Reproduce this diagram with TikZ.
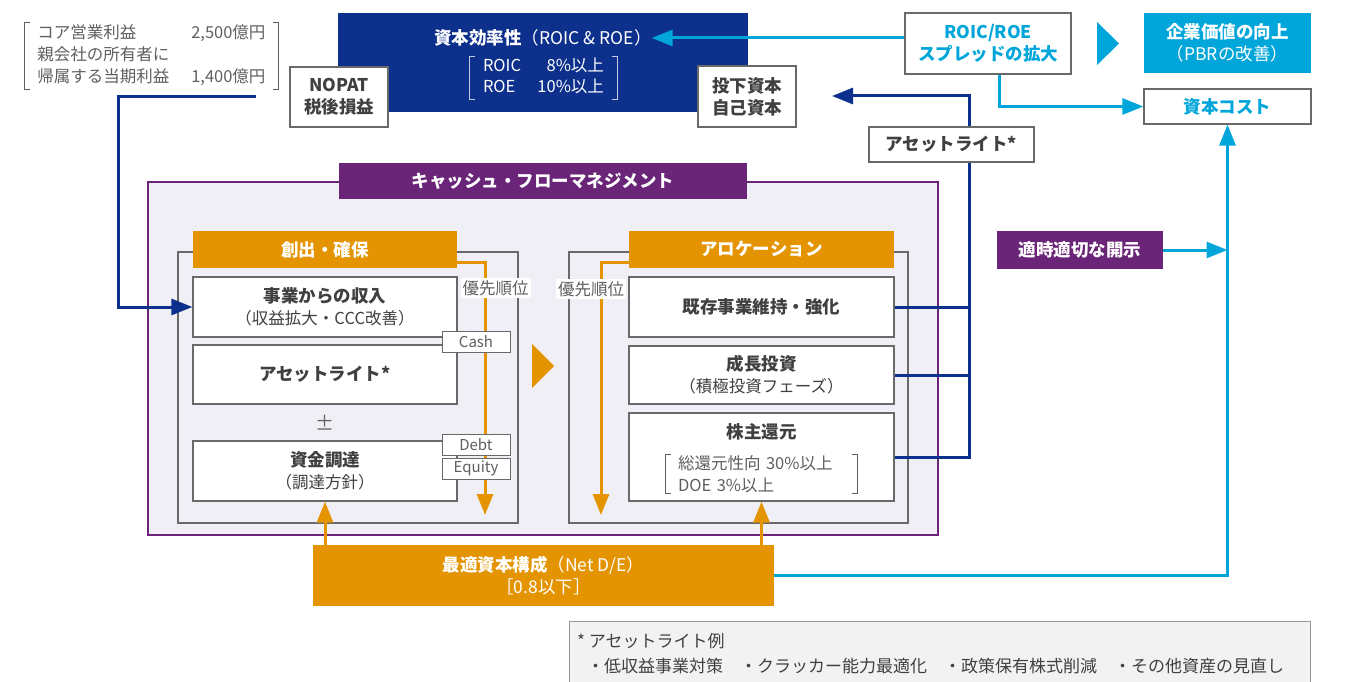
\documentclass[tikz,border=0pt]{standalone}
\usepackage{fontspec}
\setmainfont{Noto Sans CJK JP}
\usetikzlibrary{arrows.meta}
\definecolor{navy}{RGB}{12,48,140}
\definecolor{sky}{RGB}{0,166,218}
\definecolor{amber}{RGB}{228,148,0}
\definecolor{grape}{RGB}{106,36,120}
\definecolor{mist}{RGB}{240,239,246}
\definecolor{ink}{RGB}{64,64,64}
\definecolor{ash}{RGB}{95,95,95}
\definecolor{frame}{RGB}{105,105,105}
\newcommand{\fsb}{\fontsize{17.5}{22}\selectfont}
\newcommand{\fsn}{\fontsize{16.5}{22}\selectfont}
\newcommand{\fss}{\fontsize{15}{17}\selectfont}
\newcommand{\brackets}[2]{\draw[draw=#2,line width=0.9pt] ([xshift=5pt]#1.north west) -- (#1.north west) -- (#1.south west) -- ([xshift=5pt]#1.south west) ([xshift=-5pt]#1.north east) -- (#1.north east) -- (#1.south east) -- ([xshift=-5pt]#1.south east);}
\tikzset{
  wbox/.style={draw=frame,line width=1.2pt,fill=white,font=\fsb\bfseries,align=center},
  hdr/.style={fill=amber,text=white,font=\fsb\bfseries,minimum height=37pt},
  tag/.style={draw=frame,line width=1pt,fill=white,text=ash,font=\fss,minimum width=68pt,minimum height=21pt},
  prio/.style={fill=white,text=ash,font=\fsn,inner sep=2pt},
  navyline/.style={draw=navy,line width=3pt},
  skyline/.style={draw=sky,line width=3pt},
  amberline/.style={draw=amber,line width=3pt}
}
\begin{document}
\begin{tikzpicture}[x=1pt,y=-1pt,>={Triangle[length=21pt,width=16pt]},every node/.style={inner sep=0pt,text=ink}]
\useasboundingbox (0,0) rectangle (1345,682);
% top row
\node[text=ash,minimum width=253pt,minimum height=61pt] (note) at (151.5,56) {\fontsize{16.5}{22}\selectfont\begin{tabular*}{228pt}{@{}l@{\extracolsep{\fill}}r@{}}コア営業利益&2,500億円\\親会社の所有者に&\\帰属する当期利益&1,400億円\end{tabular*}};
\brackets{note}{ash}
\node[fill=navy,minimum width=410pt,minimum height=99pt] (eff) at (543,62.5) {};
\node[text=white,font=\fsb\bfseries] (effttl) at (543,38) {資本効率性{\mdseries（ROIC \& ROE）}};
\node[text=white,minimum width=147pt,minimum height=38pt] (efftgt) at (543.5,78) {\fontsize{16.5}{21}\selectfont\begin{tabular*}{121pt}{@{}l@{\extracolsep{\fill}}r@{}}ROIC&8\%以上\\ROE&10\%以上\end{tabular*}};
\brackets{efftgt}{white!75!navy}
\node[wbox,minimum width=98pt,minimum height=60pt] (nopat) at (339,97) {NOPAT\\税後損益};
\node[wbox,minimum width=98pt,minimum height=61pt] (invest) at (747,96.5) {投下資本\\自己資本};
\node[wbox,text=sky,minimum width=166pt,minimum height=61pt] (spread) at (988,43.5) {ROIC/ROE\\スプレッドの拡大};
\fill[sky] (1097,22) -- (1119,43.5) -- (1097,65) -- cycle;
\node[fill=sky,text=white,font=\fsb\bfseries,align=center,minimum width=167pt,minimum height=60pt] (value) at (1227.5,43) {企業価値の向上\\{\mdseries （PBRの改善）}};
\node[wbox,text=sky,minimum width=167pt,minimum height=35pt] (cost) at (1227.5,106.5) {資本コスト};
\draw[skyline,->] (spread.west |- effttl.east) -- (effttl.east);
\draw[skyline,->] ([xshift=11pt]spread.south) |- (cost.west);
% cash flow management
\node[fill=mist,draw=grape,line width=1.5pt,minimum width=790pt,minimum height=353pt] (cfm) at (543,358.5) {};
\node[fill=grape,text=white,font=\fsb\bfseries,minimum width=408pt,minimum height=36pt] (cfmttl) at (543,181) {キャッシュ・フローマネジメント};
\node[draw=frame,line width=1.2pt,minimum width=340pt,minimum height=271pt] (genfr) at (348,387.5) {};
\node[draw=frame,line width=1.2pt,minimum width=339pt,minimum height=271pt] (allocfr) at (738.5,387.5) {};
\node[hdr,minimum width=264pt] (gen) at (325,249.5) {創出・確保};
\node[hdr,minimum width=265pt] (alloc) at (761.5,249.5) {アロケーション};
\coordinate (genend) at (485,515);
\coordinate (allocend) at (601,515);
\draw[amberline,->] ([yshift=-12.5pt]gen.east) -| (genend);
\draw[amberline,->] ([yshift=-12.5pt]alloc.west) -| (allocend);
\node[prio] (prio1) at (495.5,288) {優先順位};
\node[prio] (prio2) at (591,289) {優先順位};
\fill[amber] (532,344) -- (554,366) -- (532,388) -- cycle;
\node[wbox,minimum width=264pt,minimum height=60pt] (income) at (325,307) {事業からの収入\\{\mdseries\fsn （収益拡大・CCC改善）}};
\node[wbox,minimum width=264pt,minimum height=59pt] (alite) at (325,374.5) {アセットライト*};
\node[text=ash,font=\fontsize{19}{20}\selectfont] (pm) at (325,423) {±};
\node[wbox,minimum width=264pt,minimum height=60pt] (fund) at (325,471) {資金調達\\{\mdseries\fsn （調達方針）}};
\node[tag] (cash) at (476,341.5) {Cash};
\node[tag] (debt) at (476,444.5) {Debt};
\node[tag] (equity) at (476,468.5) {Equity};
\node[wbox,minimum width=265pt,minimum height=60pt] (keep) at (761.5,307) {既存事業維持・強化};
\node[wbox,minimum width=265pt,minimum height=58pt] (grow) at (761.5,375) {成長投資\\{\mdseries\fsn （積極投資フェーズ）}};
\node[wbox,minimum width=265pt,minimum height=88pt] (share) at (761.5,457) {};
\node[font=\fsb\bfseries] (sharettl) at (761.5,432) {株主還元};
\node[font=\fsn,text=ash,align=left,text width=167pt,minimum width=191pt,minimum height=38pt] (sharetgt) at (761.5,474) {総還元性向 30\%以上\\DOE 3\%以上};
\brackets{sharetgt}{ash}
% optimal capital structure
\node[fill=amber,text=white,font=\fsb,align=center,minimum width=461pt,minimum height=61pt] (capital) at (543.5,575.5) {{\bfseries 最適資本構成}（Net D/E）\\［0.8以下］};
\draw[amberline,->] (fund.south |- capital.north) -- (fund.south);
\draw[amberline,->] (share.south |- capital.north) -- (share.south);
% navy flows
\coordinate (bus) at (969,457);
\coordinate (assettip) at (832,96);
\coordinate (noteend) at (256,97);
\draw[navyline,->] (noteend) -- ++(-138,0) |- (income.west);
\draw[navyline] (keep.east) -- (keep.east -| bus) (grow.east) -- (grow.east -| bus);
\draw[navyline,->] (share.east) -- (bus) -- (bus |- assettip) -- (assettip);
\node[wbox,minimum width=165pt,minimum height=35pt] (alite2) at (951.5,144.5) {アセットライト*};
% disclosure
\node[fill=grape,text=white,font=\fsb\bfseries,minimum width=166pt,minimum height=38pt] (disclose) at (1080,250) {適時適切な開示};
\draw[skyline,->] (capital.east) -| (cost.south);
\draw[skyline,->] (disclose.east) -- (disclose.east -| cost.south);
% footnote
\node[fill=black!5,draw=frame!70,line width=1pt,minimum width=741pt,minimum height=80pt,anchor=north west] (fnote) at (569,621) {};
\node[font=\fontsize{17}{25}\selectfont,align=left,anchor=north west] (fntext) at (577,633) {* アセットライト例\\\hspace*{10pt}・低収益事業対策\quad ・クラッカー能力最適化\quad ・政策保有株式削減\quad ・その他資産の見直し};
\end{tikzpicture}
\end{document}
